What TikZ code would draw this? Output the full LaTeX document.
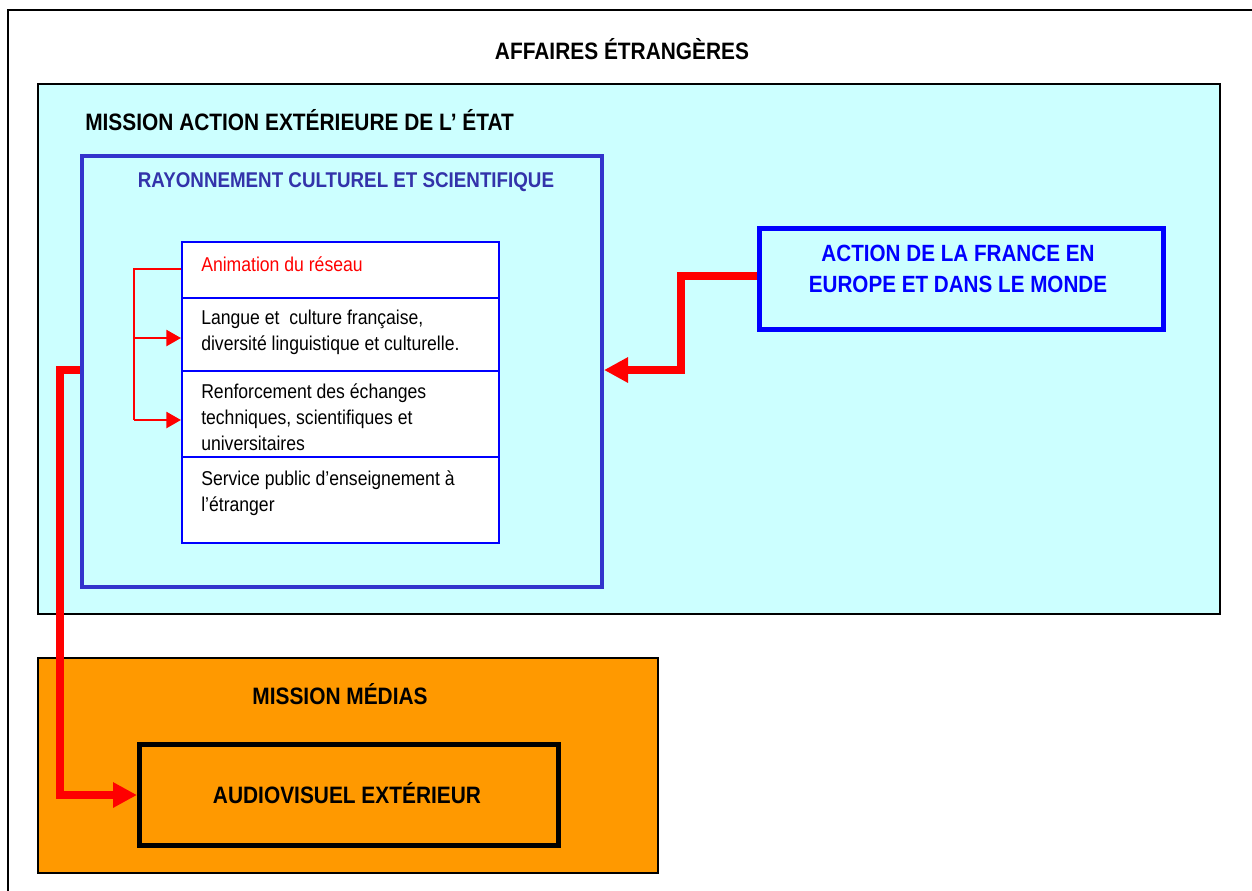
\documentclass[tikz,border=0pt]{standalone}
\usepackage{fontspec}
\setmainfont{Liberation Sans}[FakeStretch=0.88]
\usetikzlibrary{arrows.meta}
\definecolor{cyanbg}{RGB}{204,255,255}
\definecolor{orangebg}{RGB}{255,153,0}
\definecolor{rayblue}{RGB}{51,51,204}
\definecolor{raytext}{RGB}{51,51,170}
\definecolor{pureblue}{RGB}{0,0,255}
\definecolor{redline}{RGB}{255,0,0}
\tikzset{
  big/.style={font=\fontsize{17.8}{20}\selectfont\bfseries, inner sep=0pt},
  listtxt/.style={font=\fontsize{15}{19.5}\selectfont, inner sep=0pt, align=left, anchor=north west},
  rowbox/.style={draw=pureblue, line width=1.2pt, fill=white, anchor=north west, inner sep=0pt},
  thinarrow/.style={draw=redline, line width=1.9pt, -{Triangle[length=11pt,width=12pt]}},
  thickarrow/.style={draw=redline, line width=5.5pt, -{Triangle[length=18pt,width=18pt]}},
}
\begin{document}
\begin{tikzpicture}[x=0.75pt,y=-0.75pt]
\useasboundingbox (0,0) rectangle (1252,890);
% outer frame
\draw[line width=1.5pt] (8,900) -- (8,10) -- (1260,10);
\node[big, anchor=base] (title) at (622,59) {AFFAIRES ÉTRANGÈRES};
% cyan mission box
\node[draw, line width=1.3pt, fill=cyanbg, anchor=north west, minimum width=1182*0.75pt, minimum height=530*0.75pt, inner sep=0pt] (mission) at (37,83) {};
\node[big, anchor=base west] (missiontxt) at (85,130) {MISSION ACTION EXTÉRIEURE DE L’ ÉTAT};
% rayonnement box
\node[draw=rayblue, line width=3pt, anchor=north west, minimum width=520*0.75pt, minimum height=431*0.75pt, inner sep=0pt] (ray) at (80,154) {};
\node[font=\fontsize{16}{20}\selectfont\bfseries, text=raytext, inner sep=0pt, anchor=base] (raytxt) at (346,187) {RAYONNEMENT CULTUREL ET SCIENTIFIQUE};
% list rows
\node[rowbox, minimum width=317*0.75pt, minimum height=56*0.75pt] (r1) at (181,241) {};
\node[rowbox, minimum width=317*0.75pt, minimum height=73*0.75pt] (r2) at (181,297) {};
\node[rowbox, minimum width=317*0.75pt, minimum height=86*0.75pt] (r3) at (181,370) {};
\node[rowbox, minimum width=317*0.75pt, minimum height=86*0.75pt] (r4) at (181,456) {};
\node[listtxt, text=redline] (t1) at (201,256) {Animation du réseau};
\node[listtxt] (t2) at (201,310) {Langue et \ culture française,\\diversité linguistique et culturelle.};
\node[listtxt] (t3) at (201,383) {Renforcement des échanges\\techniques, scientifiques et\\universitaires};
\node[listtxt] (t4) at (201,470) {Service public d’enseignement à\\l’étranger};
% bracket arrows
\coordinate (b1) at (134,269);
\coordinate (b2) at (134,338);
\coordinate (b3) at (134,420);
\draw[draw=redline, line width=1.9pt] (r1.west |- b1) -- (b1) -- (b3);
\draw[thinarrow] (b2) -- (r2.west |- b2);
\draw[thinarrow] (b3) -- (r3.west |- b3);
% action box
\node[draw=pureblue, line width=4pt, anchor=north west, minimum width=404*0.75pt, minimum height=101*0.75pt, inner sep=0pt] (action) at (757,226) {};
\node[font=\fontsize{17.6}{23}\selectfont\bfseries, text=pureblue, align=center, inner sep=0pt, anchor=north] (actiontxt) at (958,245) {ACTION DE LA FRANCE EN\\EUROPE ET DANS LE MONDE};
% thick arrow action -> ray
\coordinate (a1) at (681,276);
\coordinate (a2) at (681,370);
\draw[thickarrow] (action.west |- a1) -- (a1) -- (a2) -- (ray.east |- a2);
% media box
\node[draw, line width=1.3pt, fill=orangebg, anchor=north west, minimum width=620*0.75pt, minimum height=215*0.75pt, inner sep=0pt] (media) at (37,657) {};
\node[big, anchor=base] (mediatxt) at (340,704) {MISSION MÉDIAS};
\node[draw, line width=3.5pt, anchor=north west, minimum width=419*0.75pt, minimum height=101*0.75pt, inner sep=0pt] (audio) at (137,742) {};
\node[big, anchor=base] (audiotxt) at (347,803) {AUDIOVISUEL EXTÉRIEUR};
% arrow ray -> audio
\coordinate (c1) at (60,370);
\coordinate (c2) at (60,795);
\draw[thickarrow] (ray.west |- c1) -- (c1) -- (c2) -- (audio.west |- c2);
\end{tikzpicture}
\end{document}
